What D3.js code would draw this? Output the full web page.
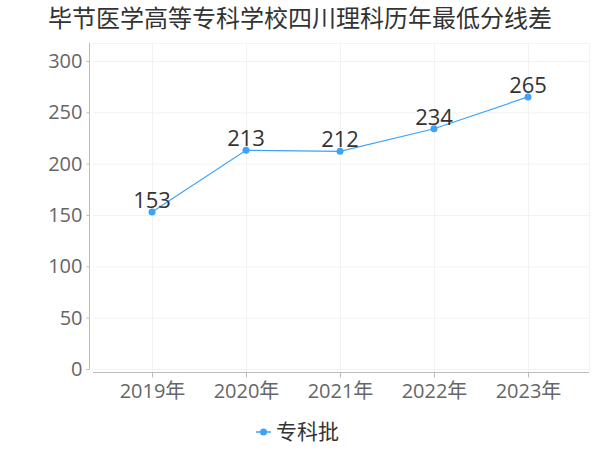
<!DOCTYPE html>
<html><head><meta charset="utf-8">
<script src="https://cdn.jsdelivr.net/npm/d3@7"></script>
<style>body{margin:0;background:#fff}svg{display:block}</style>
</head><body>
<svg id="c" width="600" height="450"></svg>
<script>
const title = "毕节医学高等专科学校四川理科历年最低分线差";
const categories = ["2019年","2020年","2021年","2022年","2023年"];
const seriesName = "专科批";
const values = [153, 213, 212, 234, 265];
const yTicks = [0, 50, 100, 150, 200, 250, 300];

const font = "'Noto Sans CJK SC', 'DejaVu Sans', sans-serif";
const numFont = "'Open Sans', 'Noto Sans CJK SC', sans-serif";
const color = "#3fa2f7";
const svg = d3.select("#c");

const plot = {left: 89, right: 589, top: 43, bottom: 372};
const x = d3.scalePoint().domain(categories).range([152, 528]);
const y = d3.scaleLinear().domain([0, 300]).range([369, 61]);

// title
svg.append("text").attr("x", 300).attr("y", 27).attr("text-anchor", "middle")
  .attr("font-family", font).attr("font-size", 24).attr("fill", "#333").text(title);

// grid
const g = svg.append("g");
g.selectAll(".hg").data(yTicks).join("line")
  .attr("x1", plot.left + 4).attr("x2", plot.right)
  .attr("y1", d => y(d) + 0.5).attr("y2", d => y(d) + 0.5)
  .attr("stroke", "#f2f2f2");
g.selectAll(".vg").data(categories).join("line")
  .attr("x1", d => x(d) + 0.5).attr("x2", d => x(d) + 0.5)
  .attr("y1", plot.top).attr("y2", plot.bottom)
  .attr("stroke", "#f2f2f2");
g.append("line").attr("x1", plot.left + 4).attr("x2", plot.right).attr("y1", plot.top + 0.5).attr("y2", plot.top + 0.5).attr("stroke", "#f2f2f2");
g.append("line").attr("x1", plot.right + 0.5).attr("x2", plot.right + 0.5).attr("y1", plot.top).attr("y2", plot.bottom).attr("stroke", "#f2f2f2");

// y axis
const yAxis = svg.append("g").attr("transform", `translate(${plot.left + 0.5},0)`)
  .call(d3.axisLeft(y).tickValues(yTicks).tickSize(3).tickPadding(4).tickSizeOuter(0));
yAxis.select(".domain").remove();
yAxis.append("line").attr("x1", 0).attr("x2", 0).attr("y1", plot.top).attr("y2", 369).attr("stroke", "#bbb");
yAxis.selectAll(".tick line").attr("stroke", "#bbb");
yAxis.selectAll(".tick text").attr("font-family", numFont).attr("font-size", 20).attr("fill", "#666");

// x axis
const xAxis = svg.append("g").attr("transform", `translate(0,${plot.bottom + 0.5})`)
  .call(d3.axisBottom(x).tickSize(5).tickPadding(6).tickSizeOuter(0));
xAxis.select(".domain").remove();
xAxis.append("line").attr("x1", 93).attr("x2", plot.right).attr("y1", 0).attr("y2", 0).attr("stroke", "#bbb");
xAxis.selectAll(".tick line").attr("stroke", "#bbb");
xAxis.selectAll(".tick text").attr("font-family", numFont).attr("font-size", 20).attr("fill", "#666");

// line
const data = categories.map((c, i) => ({c, v: values[i]}));
svg.append("path").datum(data)
  .attr("d", d3.line().x(d => x(d.c)).y(d => y(d.v)))
  .attr("fill", "none").attr("stroke", color).attr("stroke-width", 1.2);
svg.selectAll(".pt").data(data).join("circle")
  .attr("cx", d => x(d.c)).attr("cy", d => y(d.v)).attr("r", 3.5).attr("fill", color);
svg.selectAll(".lbl").data(data).join("text")
  .attr("x", d => x(d.c)).attr("y", d => y(d.v) - 4).attr("text-anchor", "middle")
  .attr("font-family", numFont).attr("font-size", 22).attr("fill", "#333").text(d => d.v);

// legend
const lg = svg.append("g").attr("transform", "translate(256,432)");
lg.append("line").attr("x1", 0).attr("x2", 15).attr("y1", 0).attr("y2", 0).attr("stroke", color).attr("stroke-width", 1.5);
lg.append("circle").attr("cx", 7.5).attr("cy", 0).attr("r", 3.5).attr("fill", color);
lg.append("text").attr("x", 20).attr("y", 0).attr("dy", "0.35em")
  .attr("font-family", font).attr("font-size", 21).attr("fill", "#333").text(seriesName);
</script>
</body></html>
